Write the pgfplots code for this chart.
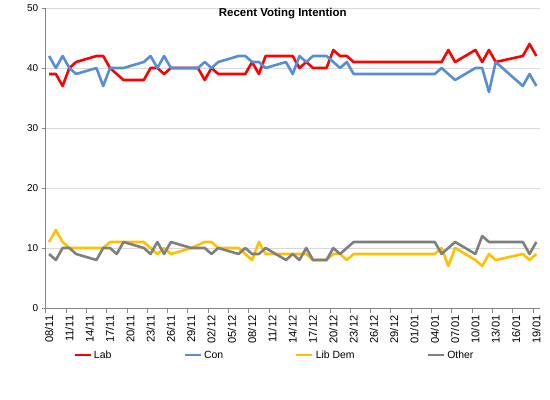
\documentclass[border=0pt]{standalone}
\usepackage{pgfplots}
\pgfplotsset{compat=1.18}
\usepackage{pgfplotstable}
\usepackage{fontspec}
\setmainfont{Liberation Sans}
\definecolor{lab}{HTML}{FF0000}
\definecolor{con}{HTML}{558ED5}
\definecolor{ld}{HTML}{FFC000}
\definecolor{oth}{HTML}{7F7F7F}
\definecolor{axisgray}{HTML}{868686}
\definecolor{gridgray}{HTML}{D9D9D9}

\pgfplotstableread{
d v
0 39
1 39
2 37
3 40
4 41
7 42
8 42
9 40
11 38
14 38
15 40
16 40
17 39
18 40
22 40
23 38
24 40
25 39
29 39
30 41
31 39
32 42
36 42
37 40
38 41
39 40
41 40
42 43
43 42
44 42
45 41
58 41
59 43
60 41
63 43
64 41
65 43
66 41
70 42
71 44
72 42
}\labtable

\pgfplotstableread{
d v
0 42
1 40
2 42
3 40
4 39
7 40
8 37
9 40
11 40
14 41
15 42
16 40
17 42
18 40
22 40
23 41
24 40
25 41
28 42
29 42
30 41
31 41
32 40
35 41
36 39
37 42
38 41
39 42
41 42
43 40
44 41
45 39
57 39
58 40
60 38
63 40
64 40
65 36
66 41
70 37
71 39
72 37
}\contable

\pgfplotstableread{
d v
0 11
1 13
2 11
3 10
8 10
9 11
14 11
15 10
16 9
17 10
18 9
21 10
23 11
24 11
25 10
28 10
30 8
31 11
32 9
38 9
39 8
41 8
42 9
43 9
44 8
45 9
57 9
58 10
59 7
60 10
63 8
64 7
65 9
66 8
70 9
71 8
72 9
}\ldtable

\pgfplotstableread{
d v
0 9
1 8
2 10
3 10
4 9
7 8
8 10
9 10
10 9
11 11
14 10
15 9
16 11
17 9
18 11
21 10
23 10
24 9
25 10
28 9
29 10
30 9
31 9
32 10
35 8
36 9
37 8
38 10
39 8
41 8
42 10
43 9
45 11
57 11
58 9
60 11
63 9
64 12
65 11
70 11
71 9
72 11
}\othtable

\begin{document}
\begin{tikzpicture}
\useasboundingbox (-45.7bp,-92bp) rectangle (504.3bp,308bp);
\begin{axis}[
  at={(0,0)}, anchor=south west,
  scale only axis, width=494bp, height=300bp,
  xmin=0, xmax=73, ymin=0, ymax=50,
  axis x line*=bottom, axis y line*=left,
  axis line style={draw=axisgray, line width=0.8bp, -},
  tick align=outside,
  xtick={0.5,3.5,...,72.5},
  xticklabels={08/11,11/11,14/11,17/11,20/11,23/11,26/11,29/11,02/12,05/12,08/12,11/12,14/12,17/12,20/12,23/12,26/12,29/12,01/01,04/01,07/01,10/01,13/01,16/01,19/01},
  x tick label style={rotate=90, anchor=east, font=\fontsize{11.2}{13}\selectfont},
  major x tick style={draw=none},
  minor xtick={0,3,...,72},
  minor x tick style={draw=axisgray, line width=0.8bp},
  minor tick length=5bp,
  ytick={0,10,...,50},
  y tick style={draw=axisgray, line width=0.8bp},
  major tick length=4bp,
  y tick label style={font=\fontsize{10}{12}\selectfont, /pgf/number format/assume math mode=true},
  ymajorgrids,
  major grid style={draw=gridgray, line width=0.8bp},
  legend columns=4,
  legend style={at={(axis description cs:0.463,-0.157)}, anchor=center, draw=none, fill=none,
    font=\fontsize{10.5}{12}\selectfont,
    /tikz/every even column/.append style={column sep=70bp}},
  legend image code/.code={\draw[#1] (0bp,0bp) -- (16bp,0bp);},
  every axis plot/.append style={line width=2.6bp, line join=round, mark=none},
]
\addplot[lab] table[x expr=\thisrow{d}+0.5, y=v] {\labtable};
\addlegendentry{Lab}
\addplot[con] table[x expr=\thisrow{d}+0.5, y=v] {\contable};
\addlegendentry{Con}
\addplot[ld] table[x expr=\thisrow{d}+0.5, y=v] {\ldtable};
\addlegendentry{Lib Dem}
\addplot[oth] table[x expr=\thisrow{d}+0.5, y=v] {\othtable};
\addlegendentry{Other}
\node[font=\bfseries\fontsize{11.5}{13}\selectfont] at (axis description cs:0.48,0.98) {Recent Voting Intention};
\end{axis}
\end{tikzpicture}
\end{document}
